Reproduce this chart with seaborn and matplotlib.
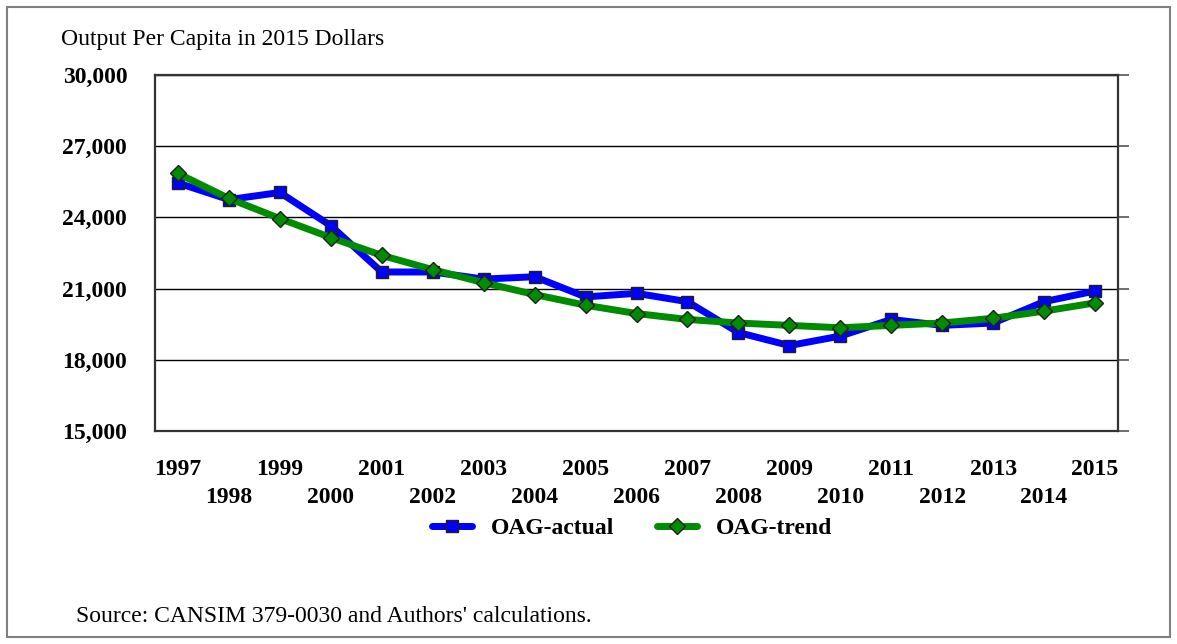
import pandas as pd
import matplotlib
matplotlib.use('Agg')
import matplotlib.pyplot as plt
import seaborn as sns
from matplotlib.patches import Rectangle

# %%
years = list(range(1997, 2016))
oag_actual = [25450, 24750, 25050, 23650, 21700, 21700, 21400, 21500, 20650,
              20800, 20450, 19150, 18600, 19000, 19700, 19450, 19550, 20450, 20900]
oag_trend = [25850, 24800, 23950, 23150, 22400, 21800, 21250, 20750, 20300,
             19950, 19700, 19550, 19450, 19350, 19450, 19550, 19750, 20050, 20400]
series_names = ['OAG-actual', 'OAG-trend']
y_ticks = [15000, 18000, 21000, 24000, 27000, 30000]

df = pd.DataFrame({'Year': years, 'OAG-actual': oag_actual, 'OAG-trend': oag_trend})
long_df = df.melt(id_vars='Year', var_name='Series', value_name='Value')

# %%
sns.set_theme(style='white')
plt.rcParams['font.family'] = ['Liberation Serif', 'DejaVu Serif']
plt.rcParams['text.color'] = 'black'
plt.rcParams['xtick.color'] = 'black'
plt.rcParams['ytick.color'] = 'black'

fig = plt.figure(figsize=(11.77, 6.44), dpi=100)
ax = fig.add_axes([155 / 1177, 1 - 431 / 644, (1118 - 155) / 1177, (431 - 75) / 644])

palette = {'OAG-actual': '#0000FF', 'OAG-trend': '#008C00'}
markers = {'OAG-actual': 's', 'OAG-trend': 'D'}
sns.lineplot(data=long_df, x='Year', y='Value', hue='Series', style='Series',
             hue_order=series_names, style_order=series_names,
             palette=palette, markers=markers, dashes=False,
             linewidth=5, markersize=8, markeredgecolor='#202020',
             markeredgewidth=1.0, ax=ax)

ax.set_xlim(1996.55, 2015.45)
ax.set_ylim(15000, 30000)
ax.set_yticks(y_ticks)
ax.set_yticklabels([f'{v:,}' for v in y_ticks], fontsize=17, fontweight='bold')
ax.yaxis.grid(True, color='black', linewidth=1.0)
ax.tick_params(axis='y', left=False, right=True, direction='out', length=8,
               width=1.2, color='#555555', pad=12, labelleft=True)

# two rows of year labels
ax.set_xticks([y for y in years if y % 2 == 1])
ax.set_xticklabels([str(y) for y in years if y % 2 == 1], fontsize=17, fontweight='bold')
ax.set_xticks([y for y in years if y % 2 == 0], minor=True)
ax.set_xticklabels([str(y) for y in years if y % 2 == 0], minor=True, fontsize=17, fontweight='bold')
ax.tick_params(axis='x', which='major', bottom=False, pad=14)
ax.tick_params(axis='x', which='minor', bottom=False, pad=36)
ax.set_xlabel('')
ax.set_ylabel('')

for side in ['top', 'bottom', 'left', 'right']:
    ax.spines[side].set_visible(True)
    ax.spines[side].set_color('#333333')
    ax.spines[side].set_linewidth(1.6)

sns.move_legend(ax, loc='center', bbox_to_anchor=(632 / 1177, 1 - 528 / 644),
                bbox_transform=fig.transFigure, ncol=2, frameon=False, title=None,
                prop={'family': 'Liberation Serif', 'weight': 'bold', 'size': 17},
                handlelength=1.7, columnspacing=1.8, handletextpad=0.8)

fig.text(61 / 1177, 1 - 45 / 644, 'Output Per Capita in 2015 Dollars', fontsize=17,
         ha='left', va='baseline')
fig.text(76 / 1177, 1 - 622 / 644, "Source: CANSIM 379-0030 and Authors' calculations.",
         fontsize=17, ha='left', va='baseline')

fig.patches.append(Rectangle((7 / 1177, 7 / 644), 1 - 14 / 1177, 1 - 14 / 644,
                             transform=fig.transFigure, fill=False,
                             edgecolor='#808080', linewidth=1.5))

fig.savefig('out.png', dpi=100)
